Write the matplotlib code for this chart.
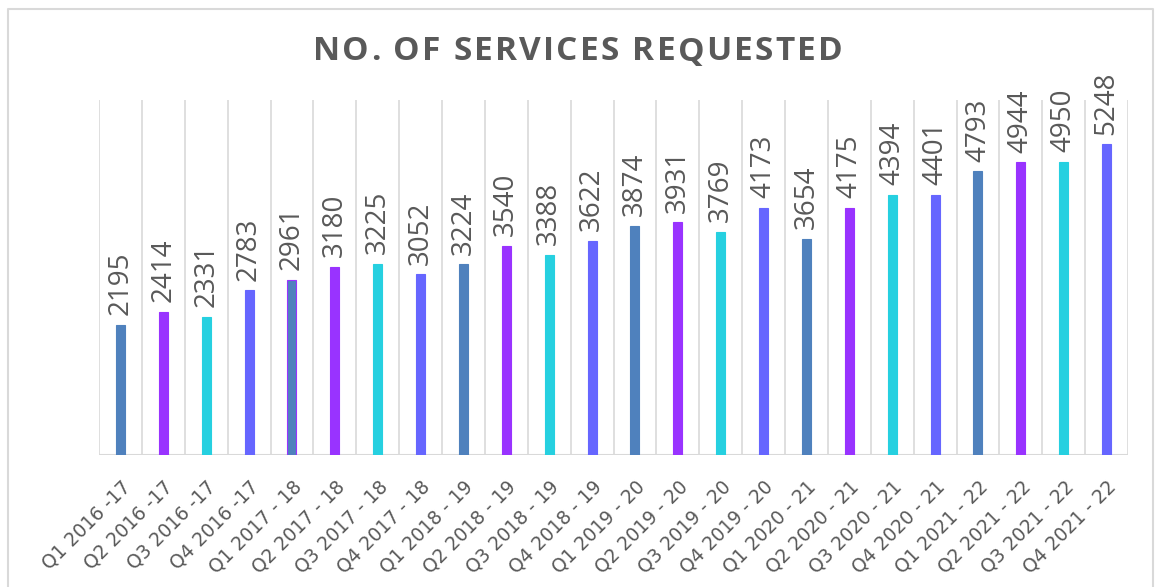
import matplotlib.pyplot as plt
from matplotlib.lines import Line2D

# ---- DATOS ----
quarters = [
    "Q1 2016 -17", "Q2 2016 -17", "Q3 2016 -17", "Q4 2016 -17",
    "Q1 2017 - 18", "Q2 2017 - 18", "Q3 2017 - 18", "Q4 2017 - 18",
    "Q1 2018 - 19", "Q2 2018 - 19", "Q3 2018 - 19", "Q4 2018 - 19",
    "Q1 2019 - 20", "Q2 2019 - 20", "Q3 2019 - 20", "Q4 2019 - 20",
    "Q1 2020 - 21", "Q2 2020 - 21", "Q3 2020 - 21", "Q4 2020 - 21",
    "Q1 2021 - 22", "Q2 2021 - 22", "Q3 2021 - 22", "Q4 2021 - 22",
]
services = [2195, 2414, 2331, 2783, 2961, 3180, 3225, 3052,
            3224, 3540, 3388, 3622, 3874, 3931, 3769, 4173,
            3654, 4175, 4394, 4401, 4793, 4944, 4950, 5248]
title = "NO. OF SERVICES REQUESTED"

# colores por trimestre (Q1, Q2, Q3, Q4)
q_colors = ["#4F81BD", "#9933FF", "#26D0E0", "#6666FF"]
colors = [q_colors[i % 4] for i in range(len(services))]
edges = list(colors)
edges[4] = "#9933FF"  # la barra Q1 2017-18 tiene borde morado

GRID = "#D9D9D9"
TEXT = "#595959"
W, H = 1155, 587

plt.rcParams['font.family'] = ['Open Sans', 'DejaVu Sans']

fig = plt.figure(figsize=(W / 100, H / 100), dpi=100)
ax = fig.add_axes([99 / W, 1 - 455 / H, 1029 / W, 355 / H])

x = list(range(len(services)))
ax.bar(x, services, width=0.21, color=colors, edgecolor=edges, linewidth=0.8, zorder=3)

for i, v in zip(x, services):
    ax.annotate(str(v), (i, v), xytext=(0, 7), textcoords='offset points',
                rotation=90, ha='center', va='bottom', fontsize=20, color=TEXT)

# lineas verticales entre categorias
for b in range(len(services) + 1):
    ax.axvline(b - 0.5, color=GRID, linewidth=1.2, zorder=1)
ax.axhline(0, color=GRID, linewidth=1.5, zorder=2)

ax.set_xlim(-0.5, len(services) - 0.5)
ax.set_ylim(0, 6000)
ax.set_yticks([])
ax.set_xticks(x)
ax.set_xticklabels(quarters, rotation=45, ha='right', va='top',
                   rotation_mode='anchor', fontsize=13.5, color=TEXT,
                   family='DejaVu Sans')
ax.tick_params(axis='x', length=0, pad=16)
for s in ax.spines.values():
    s.set_visible(False)

# titulo con espaciado entre letras (letra por letra)
renderer = fig.canvas.get_renderer()
spacing = 2.2  # px extra por letra
chars = []
total = 0
for ch in title:
    t = fig.text(0, 0, ch, fontsize=24, fontweight='bold', color=TEXT,
                 ha='left', va='center')
    w = t.get_window_extent(renderer).width if ch != " " else 0
    if ch == " ":
        probe = fig.text(0, 0, "N N", fontsize=24, fontweight='bold')
        probe2 = fig.text(0, 0, "NN", fontsize=24, fontweight='bold')
        w = probe.get_window_extent(renderer).width - probe2.get_window_extent(renderer).width
        probe.remove()
        probe2.remove()
    chars.append((t, w))
    total += w + spacing
total -= spacing
xpos = (W - total) / 2
for t, w in chars:
    t.set_position((xpos / W, 1 - 52 / H))
    xpos += w + spacing

# marco del grafico
bx0, bx1, by = 8 / W, 1153 / W, 1 - 9 / H
fig.add_artist(Line2D([bx0, bx0, bx1, bx1], [0, by, by, 0],
                      transform=fig.transFigure, color=GRID, linewidth=1.5))

fig.savefig("out.png", dpi=100)
